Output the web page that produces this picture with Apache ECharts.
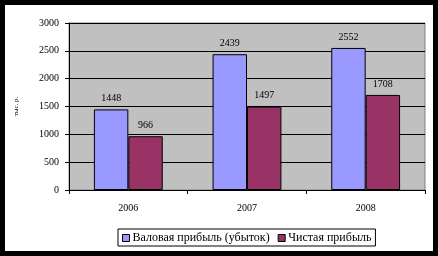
<!DOCTYPE html>
<html><head><meta charset="utf-8">
<script src="https://cdn.jsdelivr.net/npm/echarts@6/dist/echarts.min.js"></script>
<style>
html,body{margin:0;padding:0;background:#000;width:438px;height:256px;overflow:hidden}
#c{position:absolute;left:5px;top:5px;width:428px;height:246px;background:#fff}
</style></head><body><div id="c"></div>
<script>
const categories = ['2006', '2007', '2008'];
const grossProfit = [1448, 2439, 2552];
const netProfit = [966, 1497, 1708];
const seriesNames = ['Валовая прибыль (убыток)', 'Чистая прибыль'];
const yTicks = [0, 500, 1000, 1500, 2000, 2500, 3000];
const yAxisTitle = 'тыс. р.';

const font = '"Liberation Serif", "DejaVu Serif", serif';
const chart = echarts.init(document.getElementById('c'), null, {renderer: 'canvas'});
chart.setOption({
  animation: false,
  textStyle: {fontFamily: font},
  grid: {left: 63, top: 18, right: 8, bottom: 61, show: true, backgroundColor: '#C0C0C0', borderColor: '#808080', borderWidth: 1},
  legend: {
    left: 113, top: 224, padding: [3, 4, 2, 4], itemGap: 8,
    borderColor: '#000', borderWidth: 1,
    itemWidth: 7, itemHeight: 7, icon: 'rect',
    textStyle: {fontFamily: font, fontSize: 12, color: '#000', padding: [0, 0, 0, -2]},
    itemStyle: {borderColor: '#000', borderWidth: 1},
    data: seriesNames
  },
  xAxis: {
    type: 'category', data: categories,
    axisLine: {lineStyle: {color: '#000', width: 1}},
    axisTick: {show: true, length: 4, lineStyle: {color: '#000'}},
    axisLabel: {fontFamily: font, fontSize: 10, color: '#000', margin: 13}
  },
  yAxis: {
    type: 'value', min: yTicks[0], max: yTicks[yTicks.length - 1], interval: 500,
    name: yAxisTitle, nameLocation: 'middle', nameGap: 49, nameRotate: 90,
    nameTextStyle: {fontFamily: font, fontSize: 7, color: '#000'},
    axisLine: {show: true, lineStyle: {color: '#000', width: 1}},
    axisTick: {show: true, length: 4, lineStyle: {color: '#000'}},
    axisLabel: {fontFamily: font, fontSize: 10, color: '#000', margin: 10, formatter: v => String(v)},
    splitLine: {show: true, lineStyle: {color: '#000', width: 1}}
  },
  series: [
    {name: seriesNames[0], type: 'bar', data: grossProfit, barGap: '0%', barCategoryGap: '42%',
     itemStyle: {color: '#9999FF', borderColor: '#000', borderWidth: 1},
     label: {show: true, position: 'top', distance: 6, fontFamily: font, fontSize: 10, color: '#000'}},
    {name: seriesNames[1], type: 'bar', data: netProfit, barGap: '0%', barCategoryGap: '42%',
     itemStyle: {color: '#993366', borderColor: '#000', borderWidth: 1},
     label: {show: true, position: 'top', distance: 6, fontFamily: font, fontSize: 10, color: '#000'}}
  ]
});
</script></body></html>
